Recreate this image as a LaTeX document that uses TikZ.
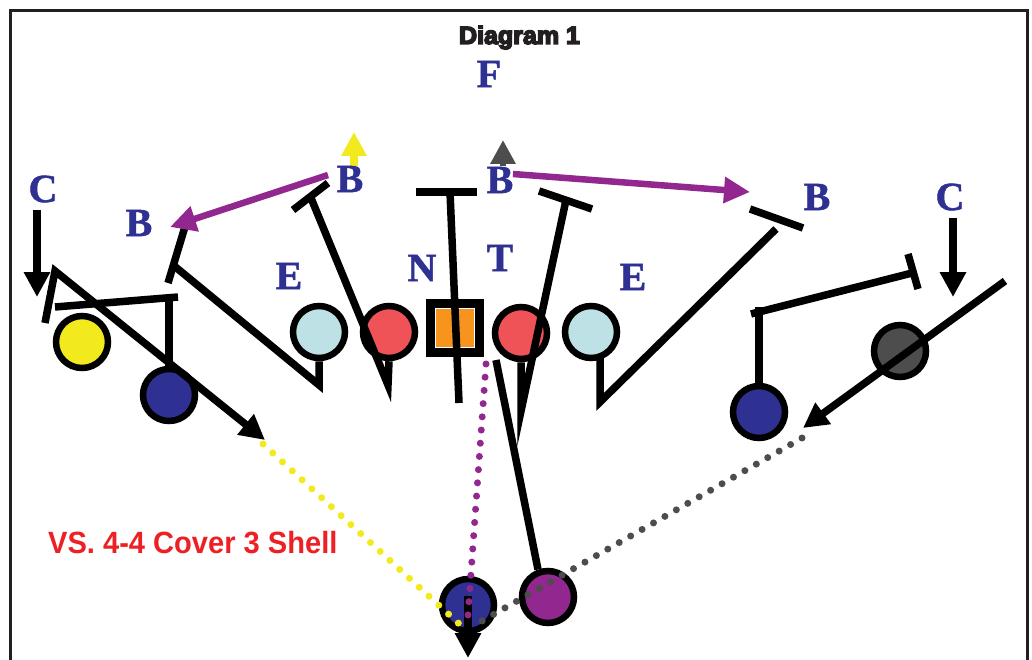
\documentclass[tikz,border=0pt]{standalone}
\usepackage{fontspec}
\setmainfont{Liberation Serif}
\newfontfamily\labelsans{Liberation Sans}
\newfontfamily\heavysans{Liberation Sans Bold}[FakeBold=6]
\newfontfamily\posfont{Liberation Serif Bold}[FakeBold=1.2]
\usetikzlibrary{arrows.meta}

\definecolor{letterblue}{HTML}{2E3192}
\definecolor{navyfill}{HTML}{2E3192}
\definecolor{sunyellow}{HTML}{F2EA1C}
\definecolor{iceblue}{HTML}{BDE1E4}
\definecolor{coral}{HTML}{EF5257}
\definecolor{centerorange}{HTML}{F7941E}
\definecolor{slate}{HTML}{4D4D4D}
\definecolor{plum}{HTML}{92278F}
\definecolor{alertred}{HTML}{ED2024}
\definecolor{framegray}{HTML}{231F20}

\tikzset{
  player/.style={circle, draw=black, line width=6.5pt, minimum size=52pt, inner sep=0pt},
  route/.style={line width=7.5pt, black},
  runarrow/.style={route, -{Triangle[length=25pt,width=25pt]}},
  motion/.style={line width=6.5pt, plum, -{Triangle[length=26pt,width=25pt]}},
  posletter/.style={font=\posfont\fontsize{40}{40}\selectfont, text=letterblue, inner sep=0pt},
  dots/.style={line width=7pt, line cap=round, dash pattern=on 0pt off #1},
}

\begin{document}
\begin{tikzpicture}[x=1pt, y=-1pt, line join=miter]
\useasboundingbox (0,0) rectangle (1032,660);
\fill[white] (0,0) rectangle (1032,660);

% frame
\draw[framegray, line width=3pt] (10,660) -- (10,11) -- (1027,11) -- (1027,660);

% title
\node[font=\heavysans\fontsize{25}{25}\selectfont, text=framegray, anchor=base] (title) at (519.5,44) {Diagram 1};

% offense
\node[player, fill=sunyellow] (yel) at (82,342) {};
\node[player, fill=navyfill] (wingL) at (169,395) {};
\node[player, fill=iceblue] (endL) at (319,332) {};
\node[player, fill=coral] (tackL) at (389,332) {};
\node[player, fill=coral] (tackR) at (521,333) {};
\node[player, fill=iceblue] (endR) at (591,332) {};
\node[player, fill=navyfill] (wingR) at (759,412) {};
\node[player, fill=slate] (slotR) at (900,351) {};
\node[player, fill=navyfill] (qb) at (468,605) {};
\node[player, fill=plum] (back) at (548,597) {};
\node[draw=black, line width=9pt, fill=black, minimum size=49pt, inner sep=0pt] (ctr) at (455,328) {};
\node[fill=centerorange, draw=white, line width=1.2pt, minimum size=39pt, inner sep=0pt] (ctrin) at (ctr) {};

% routes and blocks
\draw[runarrow] (37,210) -- (37,297);
\draw[runarrow] (45,323) -- (55,271) -- (265,440);
\draw[route] (wingL.north) -- (169,298);
\draw[route] (55,307) -- (178,297);
\draw[route] (endL.south) -- (319,385) -- (173,265);
\draw[route] (168,283) -- (187,220);
\draw[route] (tackL.south) -- (388,385) -- (311,198);
\draw[route] (293,210) -- (328,183);
\draw[route] (459,403) -- (450,192);
\draw[route] (416,192) -- (477,192);
\draw[route] (tackR.south) -- (521,411) -- (566,200);
\draw[route] (539,191) -- (592,209);
\draw[route] (600,356) -- (600,402) -- (776,229);
\draw[route] (750,209) -- (803,228);
\draw[route] (wingR.north) -- (759,307);
\draw[route] (751,314) -- (916,272);
\draw[route] (908,254) -- (918,289);
\draw[runarrow] (953,218) -- (953,297);
\draw[runarrow] (1005,281) -- (803,428);
\draw[route] (back.110) -- (496,360);
\draw[runarrow] (468,596) -- (468,658);

% defensive movement
\draw[motion] (328,175) -- (170,227);
\draw[motion] (513,174) -- (750,192);
\draw[line width=7.5pt, sunyellow, -{Triangle[length=24pt,width=24pt]}] (354,166) -- (354,132);
\draw[line width=6.5pt, slate, -{Triangle[length=24pt,width=24pt]}] (503,166) -- (503,140);

% reads
\draw[dots=13.25pt, sunyellow] (263,444) -- (468,632);
\draw[dots=13.24pt, plum] (486,364) -- (468,615);
\draw[dots=13.16pt, slate] (802,438) -- (482,621);

% defense letters
\node[posletter] (F) at (489,74) {F};
\node[posletter] (cL) at (43,189) {C};
\node[posletter] (bL) at (139,223) {B};
\node[posletter] (eL) at (289,276) {E};
\node[posletter] (bIL) at (350,179) {B};
\node[posletter] (bIR) at (500,180) {B};
\node[posletter] (N) at (422,268) {N};
\node[posletter] (T) at (500,258) {T};
\node[posletter] (eR) at (633,277) {E};
\node[posletter] (bR) at (817,197) {B};
\node[posletter] (cR) at (950,197) {C};

% caption
\node[font=\labelsans\bfseries\fontsize{30.7}{31}\selectfont, text=alertred, anchor=base west, inner sep=0pt] (shell) at (48,553) {\scalebox{0.947}[1]{VS. 4-4 Cover 3 Shell}};
\end{tikzpicture}
\end{document}
